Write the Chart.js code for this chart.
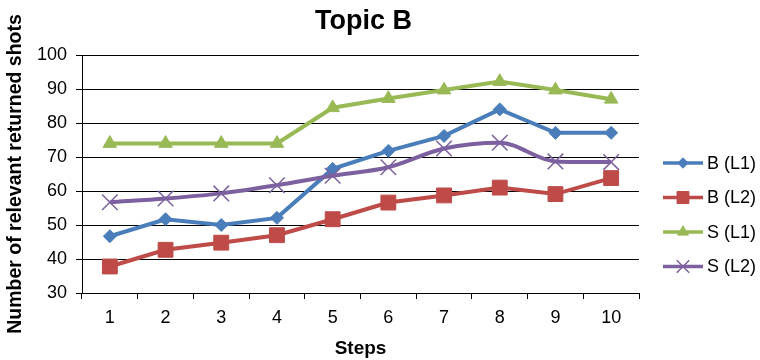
<!DOCTYPE html>
<html>
<head>
<meta charset="utf-8">
<script src="https://cdn.jsdelivr.net/npm/chart.js@4/dist/chart.umd.min.js"></script>
<style>
  html, body { margin: 0; padding: 0; background: #fff; }
  #wrap { width: 760px; height: 360px; position: relative; }
</style>
</head>
<body>
<div id="wrap"><canvas id="chart" width="760" height="360"></canvas></div>
<script>
// Steps along the x axis
const steps = ['1', '2', '3', '4', '5', '6', '7', '8', '9', '10'];

// Number of relevant returned shots per step
const bL1 = [46.7, 51.7, 50.0, 52.1, 66.5, 71.8, 76.2, 84.0, 77.1, 77.1];
const bL2 = [37.8, 42.7, 44.8, 47.0, 51.7, 56.6, 58.7, 61.0, 59.1, 63.8];
const sL1 = [74.0, 74.0, 74.0, 74.0, 84.5, 87.2, 89.7, 92.2, 89.7, 87.0];
const sL2 = [56.7, 57.8, 59.3, 61.7, 64.5, 67.0, 72.5, 74.2, 68.7, 68.5];

const seriesNames = ['B (L1)', 'B (L2)', 'S (L1)', 'S (L2)'];
const chartTitle = 'Topic B';

// y axis range and step
const yMin = 30, yMax = 100, yStep = 10;

const FONT = "'Liberation Sans', Arial, Helvetica, sans-serif";

function series(label, data, color, style, radius, order, extra) {
  return Object.assign({
    label: label,
    data: data,
    borderColor: color,
    backgroundColor: color,
    borderWidth: 4,
    pointStyle: style,
    pointRadius: radius,
    pointHoverRadius: radius,
    pointBackgroundColor: color,
    pointBorderColor: color,
    pointBorderWidth: 1,
    tension: 0,
    order: order,
    fill: false
  }, extra || {});
}

// Title centred over the plot, and the legend at the right:
// a short line with the series marker, then its name
const decorations = {
  id: 'decorations',
  afterDraw(chart) {
    const ctx = chart.ctx;
    const area = chart.chartArea;

    ctx.save();
    ctx.fillStyle = '#000';
    ctx.font = 'bold 27px ' + FONT;
    ctx.textAlign = 'center';
    ctx.textBaseline = 'middle';
    ctx.fillText(chartTitle, (area.left + area.right) / 2 + 3, 22);
    ctx.restore();

    const x0 = 663, x1 = 703, tx = 707;
    const y0 = 163, gap = 34.5;
    chart.data.datasets.forEach((ds, i) => {
      const y = y0 + i * gap;
      ctx.save();
      ctx.strokeStyle = ds.borderColor;
      ctx.lineWidth = 3.5;
      ctx.beginPath();
      ctx.moveTo(x0, y);
      ctx.lineTo(x1, y);
      ctx.stroke();
      ctx.fillStyle = ds.pointBackgroundColor;
      ctx.strokeStyle = ds.pointBorderColor;
      ctx.lineWidth = ds.pointBorderWidth;
      Chart.helpers.drawPoint(ctx, {
        pointStyle: ds.pointStyle,
        radius: ds.pointRadius * 0.8,
        rotation: 0,
        borderWidth: ds.pointBorderWidth
      }, (x0 + x1) / 2, y);
      ctx.fillStyle = '#000';
      ctx.font = '18px ' + FONT;
      ctx.textBaseline = 'middle';
      ctx.textAlign = 'left';
      ctx.fillText(ds.label, tx, y + 1);
      ctx.restore();
    });
  }
};

new Chart(document.getElementById('chart'), {
  type: 'line',
  data: {
    labels: steps,
    datasets: [
      series(seriesNames[0], bL1, '#4A7EBB', 'rectRot', 6.5, 3),
      series(seriesNames[1], bL2, '#BE4B48', 'rect', 10.5, 2),
      series(seriesNames[2], sL1, '#98B954', 'triangle', 7.8, 1),
      series(seriesNames[3], sL2, '#7D60A0', 'crossRot', 11, 0, { pointBorderWidth: 1.5, cubicInterpolationMode: 'monotone' })
    ]
  },
  plugins: [decorations],
  options: {
    responsive: false,
    animation: false,
    devicePixelRatio: 1,
    layout: { padding: { left: 0, right: 121, top: 55, bottom: 0 } },
    plugins: {
      legend: { display: false },
      tooltip: { enabled: false },
      title: { display: false }
    },
    scales: {
      x: {
        type: 'category',
        offset: true,
        afterFit(scale) { scale.height = 67; },
        grid: {
          display: true,
          offset: true,
          drawOnChartArea: false,
          drawTicks: true,
          tickLength: 6,
          color: '#000',
          lineWidth: 1
        },
        border: { display: true, color: '#000', width: 1 },
        ticks: {
          color: '#000',
          font: { family: FONT, size: 18 },
          padding: 8,
          maxRotation: 0,
          autoSkip: false
        },
        title: {
          display: true,
          text: 'Steps',
          color: '#000',
          font: { family: FONT, size: 19, weight: 'bold' },
          padding: { top: 0, bottom: 0 }
        }
      },
      y: {
        min: yMin,
        max: yMax,
        afterFit(scale) { scale.width = 82; },
        grid: {
          display: true,
          drawOnChartArea: true,
          drawTicks: true,
          tickLength: 6,
          color: '#000',
          lineWidth: 1
        },
        border: { display: true, color: '#000', width: 1 },
        ticks: {
          stepSize: yStep,
          color: '#000',
          font: { family: FONT, size: 18 },
          padding: 9
        },
        title: {
          display: true,
          text: 'Number of relevant returned shots',
          color: '#000',
          font: { family: FONT, size: 19.5, weight: 'bold' },
          padding: { top: 4, bottom: 0 }
        }
      }
    }
  }
});
</script>
</body>
</html>
